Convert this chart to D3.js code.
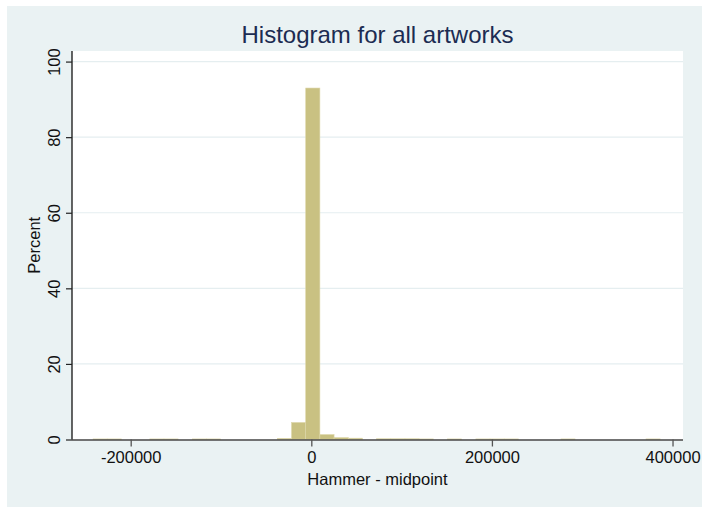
<!DOCTYPE html>
<html>
<head>
<meta charset="utf-8">
<script src="https://cdn.jsdelivr.net/npm/d3@7/dist/d3.min.js"></script>
<style>
  html, body { margin: 0; padding: 0; background: #ffffff; }
  svg { display: block; }
  text { font-family: "Liberation Sans", Arial, Helvetica, sans-serif; }
</style>
</head>
<body>
<svg id="chart" width="702" height="507"></svg>
<script>
// ---- data ----
const titleText = "Histogram for all artworks";
const xLabel = "Hammer - midpoint";
const yLabel = "Percent";
const binWidth = 15700;
// left edge of each non-empty bin (Hammer - midpoint)
const binLefts = [-241700, -226000, -178900, -163200, -131800, -116100,
                  -37600, -21900, -6200, 9500, 25200, 40900,
                  72300, 88000, 103700, 119400, 150800, 182200,
                  197900, 213600, 276400, 370600];
// percent of artworks in each bin
const binPercents = [0.15, 0.15, 0.15, 0.15, 0.15, 0.15,
                     0.3, 4.5, 93.0, 1.3, 0.5, 0.35,
                     0.2, 0.2, 0.2, 0.15, 0.15, 0.15,
                     0.15, 0.15, 0.15, 0.15];
const xTicks = [-200000, 0, 200000, 400000];
const yTicks = [0, 20, 40, 60, 80, 100];
const xDomain = [-265000, 411600];
const yDomain = [0, 102.8];

// ---- layout ----
const W = 702, H = 507;
const plot = { left: 72, right: 683, top: 51, bottom: 439.5 };

const svg = d3.select("#chart");

// outer graph region
svg.append("rect").attr("x", 7).attr("y", 6).attr("width", W - 7).attr("height", H - 6)
   .attr("fill", "#eaf2f3");
// plot region
svg.append("rect").attr("x", plot.left).attr("y", plot.top)
   .attr("width", plot.right - plot.left).attr("height", plot.bottom - plot.top + 1)
   .attr("fill", "#ffffff");

const x = d3.scaleLinear().domain(xDomain).range([plot.left, plot.right]);
const y = d3.scaleLinear().domain(yDomain).range([plot.bottom, plot.top]);

// gridlines
svg.append("g").selectAll("line").data(yTicks.filter(d => d > 0)).join("line")
   .attr("x1", plot.left).attr("x2", plot.right)
   .attr("y1", d => y(d)).attr("y2", d => y(d))
   .attr("stroke", "#e5eef0").attr("stroke-width", 1.2);

// bars
const bins = binLefts.map((l, i) => ({ x0: l, x1: l + binWidth, p: binPercents[i] }));
svg.append("g").selectAll("rect").data(bins).join("rect")
   .attr("x", d => x(d.x0))
   .attr("width", d => x(d.x1) - x(d.x0))
   .attr("y", d => y(d.p))
   .attr("height", d => y(0) - y(d.p))
   .attr("fill", "#c9c182")
   .attr("stroke", "#dcd6a8")
   .attr("stroke-width", 0.6);

// x axis
const xAxis = d3.axisBottom(x).tickValues(xTicks).tickSize(7).tickPadding(5)
   .tickFormat(d3.format("d"));
const gx = svg.append("g").attr("transform", `translate(0,${plot.bottom})`).call(xAxis);
gx.select(".domain").attr("d", `M${plot.left},0.5H${plot.right}`)
   .attr("stroke", "#444").attr("stroke-width", 1.5);
gx.selectAll(".tick line").attr("stroke", "#555").attr("stroke-width", 1.3);
gx.selectAll(".tick text").attr("font-size", 16.5).attr("fill", "#111")
   .attr("font-family", "'Liberation Sans', Arial, sans-serif")
   .text(d => d < 0 ? "-" + Math.abs(d) : String(d));

// y axis
const yAxis = d3.axisLeft(y).tickValues(yTicks).tickSize(6).tickPadding(0)
   .tickFormat(d3.format("d"));
const gy = svg.append("g").attr("transform", `translate(${plot.left},0)`).call(yAxis);
gy.select(".domain").attr("d", `M0,${plot.top}V${plot.bottom}`)
   .attr("stroke", "#111").attr("stroke-width", 1.3);
gy.selectAll(".tick line").attr("stroke", "#222").attr("stroke-width", 1.2);
gy.selectAll(".tick text")
   .attr("font-size", 16.5).attr("fill", "#111")
   .attr("font-family", "'Liberation Sans', Arial, sans-serif")
   .attr("x", null).attr("dy", null)
   .attr("text-anchor", "middle")
   .attr("transform", "translate(-12.5,0) rotate(-90)");

// axis titles
svg.append("text").attr("x", (plot.left + plot.right) / 2).attr("y", 485)
   .attr("text-anchor", "middle").attr("font-size", 16.5).attr("fill", "#111")
   .text(xLabel);
svg.append("text")
   .attr("transform", `translate(39.5,${(plot.top + plot.bottom) / 2}) rotate(-90)`)
   .attr("text-anchor", "middle").attr("font-size", 16.5).attr("fill", "#111")
   .text(yLabel);

// title
svg.append("text").attr("x", (plot.left + plot.right) / 2).attr("y", 43)
   .attr("text-anchor", "middle").attr("font-size", 24).attr("fill", "#1c2c52")
   .text(titleText);
</script>
</body>
</html>
